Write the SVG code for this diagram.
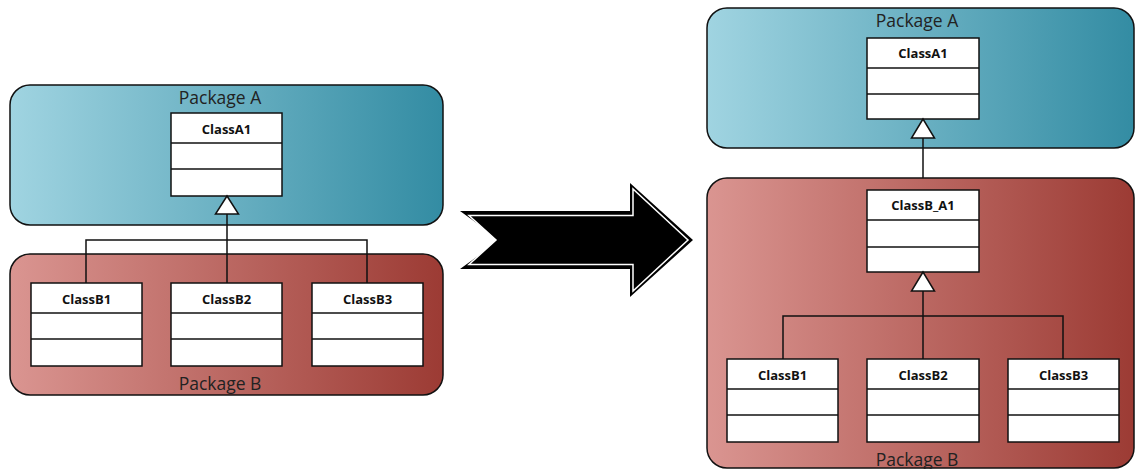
<svg xmlns="http://www.w3.org/2000/svg" width="1135" height="469" viewBox="0 0 1135 469">
<style>
.pkg{stroke:#111;stroke-width:1.5}
.pa{fill:url(#gA)}
.pb{fill:url(#gB)}
.cls{fill:#fff;stroke:#111;stroke-width:1.5}
.ln{stroke:#111;stroke-width:1.5;fill:none}
.tri{fill:#fff;stroke:#111;stroke-width:1.5}
.plbl{font-family:"Open Sans","Noto Sans",sans-serif;font-size:17.5px;fill:#222;text-anchor:middle}
.clbl{font-family:"Open Sans","Noto Sans",sans-serif;font-size:13px;font-weight:bold;fill:#111;text-anchor:middle}
</style>
<defs>
<linearGradient id="gA" x1="0" y1="0" x2="1" y2="0"><stop offset="0" stop-color="#a0d4e1"/><stop offset="1" stop-color="#338ca3"/></linearGradient>
<linearGradient id="gB" x1="0" y1="0" x2="1" y2="0"><stop offset="0" stop-color="#da9591"/><stop offset="1" stop-color="#9c3b34"/></linearGradient>
</defs>
<rect width="1135" height="469" fill="#fff"/>

<!-- Left diagram -->
<g id="left-packageA"><rect class="pkg pa" x="10" y="85" width="433" height="140" rx="20"/><text class="plbl" x="220" y="104">Package A</text></g>
<g id="left-packageB"><rect class="pkg pb" x="10" y="254" width="433" height="141" rx="20"/><text class="plbl" x="220" y="390">Package B</text></g>
<g id="left-ClassA1"><rect class="cls" x="171" y="113" width="111" height="83"/><line class="ln" x1="171" y1="143" x2="282" y2="143"/><line class="ln" x1="171" y1="169" x2="282" y2="169"/><text class="clbl" x="226.5" y="134">ClassA1</text></g>
<g id="left-ClassB1"><rect class="cls" x="31" y="283" width="111" height="83"/><line class="ln" x1="31" y1="313" x2="142" y2="313"/><line class="ln" x1="31" y1="339" x2="142" y2="339"/><text class="clbl" x="86.5" y="304">ClassB1</text></g>
<g id="left-ClassB2"><rect class="cls" x="171" y="283" width="111" height="83"/><line class="ln" x1="171" y1="313" x2="282" y2="313"/><line class="ln" x1="171" y1="339" x2="282" y2="339"/><text class="clbl" x="226.5" y="304">ClassB2</text></g>
<g id="left-ClassB3"><rect class="cls" x="312" y="283" width="111" height="83"/><line class="ln" x1="312" y1="313" x2="423" y2="313"/><line class="ln" x1="312" y1="339" x2="423" y2="339"/><text class="clbl" x="367.5" y="304">ClassB3</text></g>

<!-- Big arrow -->
<g id="transform-arrow">
<polygon points="460,211 630,211 630,183 693,240 630,297 630,269 460,269 500,240" fill="#000"/>
<polygon points="469,215.5 633,215.5 633,189 688,240 633,291 633,264.5 469,264.5 496,240" fill="#000" stroke="#fff" stroke-width="1.5"/>
</g>

<!-- Right diagram -->
<g id="right-packageA"><rect class="pkg pa" x="707" y="8" width="427" height="140" rx="20"/><text class="plbl" x="917" y="27">Package A</text></g>
<g id="right-packageB"><rect class="pkg pb" x="707" y="178" width="427" height="290" rx="20"/><text class="plbl" x="917" y="466">Package B</text></g>
<g id="right-ClassA1"><rect class="cls" x="867" y="38" width="112" height="81"/><line class="ln" x1="867" y1="68" x2="979" y2="68"/><line class="ln" x1="867" y1="94" x2="979" y2="94"/><text class="clbl" x="923" y="58">ClassA1</text></g>
<g id="right-ClassB_A1"><rect class="cls" x="867" y="190" width="112" height="82"/><line class="ln" x1="867" y1="220" x2="979" y2="220"/><line class="ln" x1="867" y1="247" x2="979" y2="247"/><text class="clbl" x="923" y="210">ClassB_A1</text></g>
<g id="right-ClassB1"><rect class="cls" x="727" y="359" width="111" height="83"/><line class="ln" x1="727" y1="389" x2="838" y2="389"/><line class="ln" x1="727" y1="415" x2="838" y2="415"/><text class="clbl" x="782.5" y="380">ClassB1</text></g>
<g id="right-ClassB2"><rect class="cls" x="867" y="359" width="112" height="83"/><line class="ln" x1="867" y1="389" x2="979" y2="389"/><line class="ln" x1="867" y1="415" x2="979" y2="415"/><text class="clbl" x="923" y="380">ClassB2</text></g>
<g id="right-ClassB3"><rect class="cls" x="1008" y="359" width="111" height="83"/><line class="ln" x1="1008" y1="389" x2="1119" y2="389"/><line class="ln" x1="1008" y1="415" x2="1119" y2="415"/><text class="clbl" x="1063.5" y="380">ClassB3</text></g>

<!-- Connectors -->
<g id="connectors">
<path class="ln" d="M227,214 V283 M86,283 V240 H367 V283"/>
<polygon class="tri" points="227,196 215.5,214 238.5,214"/>
<path class="ln" d="M923,138 V178"/>
<polygon class="tri" points="923,119 911.5,138 934.5,138"/>
<path class="ln" d="M923,291 V359 M783,359 V316 H1063 V359"/>
<polygon class="tri" points="923,272 911.5,291 934.5,291"/>
</g>
</svg>
